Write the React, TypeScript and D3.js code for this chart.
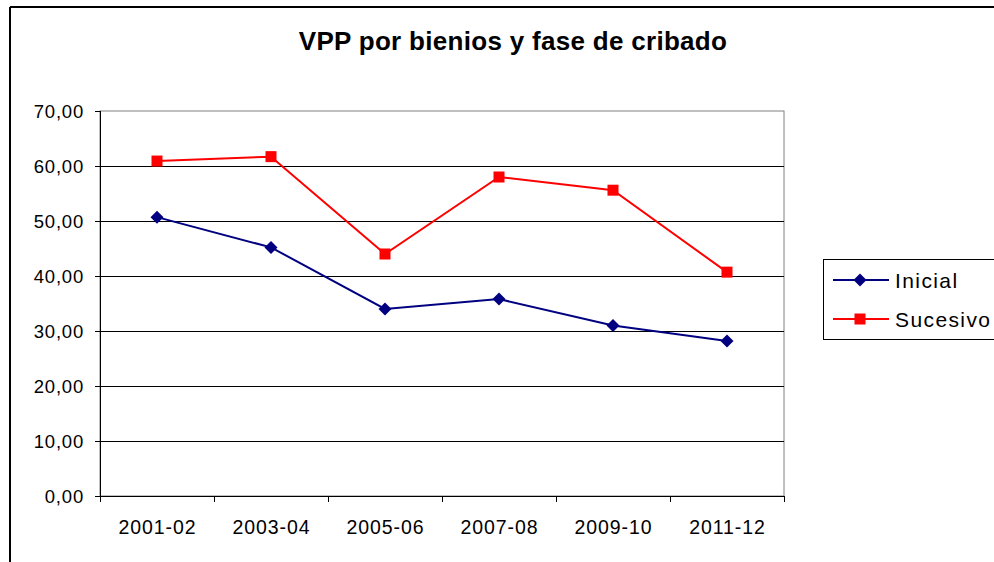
import * as d3 from 'd3';

const categories = ['2001-02', '2003-04', '2005-06', '2007-08', '2009-10', '2011-12'];
const inicial = [50.7, 45.2, 34.0, 35.8, 31.0, 28.2];
const sucesivo = [60.9, 61.7, 44.0, 58.0, 55.6, 40.7];
const yTicks = [0, 10, 20, 30, 40, 50, 60, 70];

const W = 994;
const H = 562;
const plot = { left: 100, right: 784, top: 111, bottom: 496 };
const font = '"Liberation Sans", Arial, sans-serif';

const series = [
  { name: 'Inicial', values: inicial, color: '#000080', marker: 'diamond' },
  { name: 'Sucesivo', values: sucesivo, color: '#FF0000', marker: 'square' },
];

const fmt = (v: number) => v.toFixed(2).replace('.', ',');

function Marker({ type, x, y, color }: { type: string; x: number; y: number; color: string }) {
  if (type === 'diamond') {
    const s = 6.5;
    return (
      <path
        d={`M${x},${y - s}L${x + s},${y}L${x},${y + s}L${x - s},${y}Z`}
        fill={color}
      />
    );
  }
  return <rect x={x - 5.5} y={y - 5.5} width={11} height={11} fill={color} />;
}

export default function App() {
  const x = d3
    .scaleBand<string>()
    .domain(categories)
    .range([plot.left, plot.right])
    .paddingInner(0)
    .paddingOuter(0);
  const y = d3.scaleLinear().domain([0, 70]).range([plot.bottom, plot.top]);
  const cx = (c: string) => (x(c) ?? 0) + x.bandwidth() / 2;

  const line = d3
    .line<number>()
    .x((_, i) => cx(categories[i]))
    .y((d) => y(d));

  const tickXs = categories.map((c) => x(c) ?? 0).concat([plot.right]);

  return (
    <svg
      width={W}
      height={H}
      style={{ position: 'absolute', left: 0, top: 0, background: '#fff' }}
      fontFamily={font}
    >
      <rect x={0} y={0} width={W} height={H} fill="#fff" />
      {/* outer chart border */}
      <line x1={10} y1={7} x2={W} y2={7} stroke="#000" strokeWidth={2} />
      <line x1={10} y1={7} x2={10} y2={H} stroke="#000" strokeWidth={2} />

      <text
        x={513}
        y={50}
        textAnchor="middle"
        fontSize={26}
        fontWeight="bold"
        letterSpacing={0.3}
      >
        VPP por bienios y fase de cribado
      </text>

      {/* plot frame */}
      <rect
        x={plot.left}
        y={plot.top}
        width={plot.right - plot.left}
        height={plot.bottom - plot.top}
        fill="none"
        stroke="#808080"
      />

      {/* grid + y ticks */}
      {yTicks.map((t) => (
        <g key={t}>
          {t > 0 && t < 70 && (
            <line
              x1={plot.left}
              x2={plot.right}
              y1={Math.round(y(t)) + 0.5}
              y2={Math.round(y(t)) + 0.5}
              stroke="#000"
            />
          )}
          <line
            x1={plot.left - 5}
            x2={plot.left}
            y1={Math.round(y(t)) + 0.5}
            y2={Math.round(y(t)) + 0.5}
            stroke="#000"
          />
          <text
            x={84}
            y={y(t) + 6.5}
            textAnchor="end"
            fontSize={18.5}
            letterSpacing={0.8}
          >
            {fmt(t)}
          </text>
        </g>
      ))}

      {/* axes */}
      <line
        x1={plot.left + 0.5}
        x2={plot.left + 0.5}
        y1={plot.top}
        y2={plot.bottom}
        stroke="#000"
      />
      <line
        x1={plot.left}
        x2={plot.right}
        y1={plot.bottom + 0.5}
        y2={plot.bottom + 0.5}
        stroke="#000"
      />
      {tickXs.map((tx, i) => (
        <line
          key={i}
          x1={Math.round(tx) + 0.5}
          x2={Math.round(tx) + 0.5}
          y1={plot.bottom}
          y2={plot.bottom + 6}
          stroke="#000"
        />
      ))}
      {categories.map((c) => (
        <text
          key={c}
          x={cx(c) + 0.5}
          y={534}
          textAnchor="middle"
          fontSize={19.5}
          letterSpacing={0.9}
        >
          {c}
        </text>
      ))}

      {/* series */}
      {series.map((s) => (
        <g key={s.name}>
          <path d={line(s.values) ?? ''} fill="none" stroke={s.color} strokeWidth={2} />
          {s.values.map((v, i) => (
            <Marker
              key={i}
              type={s.marker}
              x={cx(categories[i])}
              y={y(v)}
              color={s.color}
            />
          ))}
        </g>
      ))}

      {/* legend */}
      <rect x={823.5} y={259.5} width={200} height={80} fill="#fff" stroke="#000" />
      {series.map((s, i) => {
        const ly = 280 + i * 39;
        return (
          <g key={s.name}>
            <line x1={833} x2={889} y1={ly} y2={ly} stroke={s.color} strokeWidth={2} />
            <Marker type={s.marker} x={860} y={ly} color={s.color} />
            <text x={895} y={ly + 7.5} fontSize={21} letterSpacing={1.4}>
              {s.name}
            </text>
          </g>
        );
      })}
    </svg>
  );
}
